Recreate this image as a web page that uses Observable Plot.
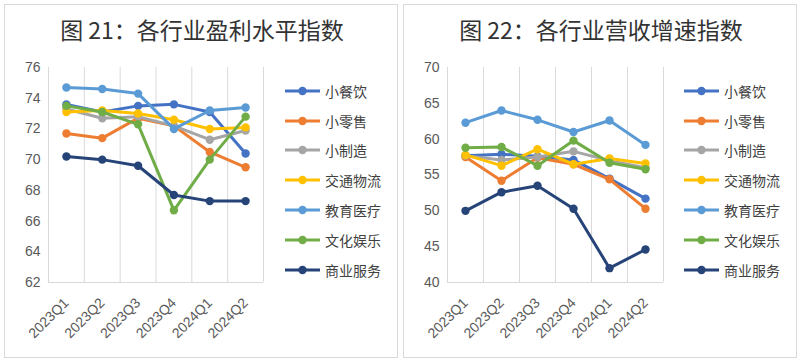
<!DOCTYPE html>
<html>
<head>
<meta charset="utf-8">
<script src="https://cdn.jsdelivr.net/npm/d3@7"></script>
<script src="https://cdn.jsdelivr.net/npm/@observablehq/plot@0.6"></script>
<style>
  html, body { margin: 0; padding: 0; background: #fff; }
  #root { position: relative; width: 801px; height: 362px; overflow: hidden; font-family: "Noto Sans CJK SC", sans-serif; }
  .panel { position: absolute; top: 4px; width: 394px; height: 354px; border: 1px solid #d9d9d9; box-sizing: border-box; }
  .title { position: absolute; top: 9px; width: 394px; text-align: center; font-size: 23px; color: #333; line-height: 30px; white-space: nowrap; }
  .legend { position: absolute; top: 76px; font-size: 14px; color: #404040; }
  .legend .item { display: flex; align-items: center; height: 29.8px; }
  .legend svg { margin-right: 4px; }
</style>
</head>
<body>
<div id="root"></div>
<script>
const quarters = ["2023Q1", "2023Q2", "2023Q3", "2023Q4", "2024Q1", "2024Q2"];
const seriesNames = ["小餐饮", "小零售", "小制造", "交通物流", "教育医疗", "文化娱乐", "商业服务"];
const seriesColors = ["#4472C4", "#ED7D31", "#A5A5A5", "#FFC000", "#5B9BD5", "#70AD47", "#264478"];

// 图21 各行业盈利水平指数
const profit_小餐饮 = [73.6, 73.1, 73.5, 73.6, 73.1, 70.4];
const profit_小零售 = [71.7, 71.4, 72.7, 72.2, 70.5, 69.5];
const profit_小制造 = [73.3, 72.7, 72.8, 72.2, 71.3, 71.9];
const profit_交通物流 = [73.1, 73.2, 73.0, 72.6, 72.0, 72.1];
const profit_教育医疗 = [74.7, 74.6, 74.3, 72.0, 73.2, 73.4];
const profit_文化娱乐 = [73.5, 73.1, 72.3, 66.7, 70.0, 72.8];
const profit_商业服务 = [70.2, 70.0, 69.6, 67.7, 67.3, 67.3];
const profitTicks = [62, 64, 66, 68, 70, 72, 74, 76];

// 图22 各行业营收增速指数
const revenue_小餐饮 = [57.7, 57.9, 57.6, 57.1, 54.5, 51.7];
const revenue_小零售 = [57.5, 54.2, 57.4, 56.5, 54.4, 50.3];
const revenue_小制造 = [57.7, 57.1, 57.5, 58.3, 57.0, 56.0];
const revenue_交通物流 = [57.8, 56.3, 58.6, 56.5, 57.3, 56.6];
const revenue_教育医疗 = [62.3, 64.0, 62.7, 61.0, 62.6, 59.2];
const revenue_文化娱乐 = [58.8, 58.9, 56.3, 59.8, 56.7, 55.8];
const revenue_商业服务 = [50.0, 52.6, 53.5, 50.3, 42.0, 44.6];
const revenueTicks = [40, 45, 50, 55, 60, 65, 70];

const profitSeries = [profit_小餐饮, profit_小零售, profit_小制造, profit_交通物流, profit_教育医疗, profit_文化娱乐, profit_商业服务];
const revenueSeries = [revenue_小餐饮, revenue_小零售, revenue_小制造, revenue_交通物流, revenue_教育医疗, revenue_文化娱乐, revenue_商业服务];

function toRows(seriesArrays) {
  const rows = [];
  seriesArrays.forEach((vals, s) => vals.forEach((v, i) => rows.push({series: seriesNames[s], i, q: quarters[i], value: v})));
  return rows;
}

function makeChart(seriesArrays, ticks, marginLeft) {
  const rows = toRows(seriesArrays);
  const idx = quarters.map((_, i) => i);
  const bounds = d3.range(-0.5, quarters.length, 1);
  const marks = [
    Plot.ruleX(bounds, {stroke: "#d9d9d9", strokeWidth: 1}),
    Plot.ruleY([ticks[0]], {stroke: "#d9d9d9", strokeWidth: 1}),
    Plot.axisY({ticks, tickSize: 0, tickPadding: 8, fontSize: 14, fill: "#595959", label: null}),
    Plot.axisX({ticks: idx, tickFormat: i => quarters[i], tickSize: 0, tickPadding: 18, tickRotate: -45, fontSize: 14, fill: "#595959", label: null})
  ];
  seriesNames.forEach(name => {
    const d = rows.filter(r => r.series === name);
    marks.push(Plot.line(d, {x: "i", y: "value", stroke: "series", strokeWidth: 3, strokeLinejoin: "round", strokeLinecap: "round"}));
    marks.push(Plot.dot(d, {x: "i", y: "value", fill: "series", r: 4.2}));
  });
  return Plot.plot({
    width: 270,
    height: 300,
    marginLeft,
    marginRight: 7,
    marginTop: 17,
    marginBottom: 68,
    x: {type: "linear", domain: [-0.5, quarters.length - 0.5], axis: null, label: null},
    y: {domain: [ticks[0], ticks[ticks.length - 1]], axis: null, label: null},
    color: {domain: seriesNames, range: seriesColors},
    style: {fontFamily: "'Liberation Sans', 'Noto Sans CJK SC', sans-serif", color: "#595959", background: "transparent", overflow: "visible"},
    marks
  });
}

function makeLegend() {
  const div = document.createElement("div");
  div.className = "legend";
  seriesNames.forEach((name, k) => {
    const item = document.createElement("div");
    item.className = "item";
    const c = seriesColors[k];
    item.innerHTML = `<svg width="37" height="10"><line x1="1" y1="5" x2="36" y2="5" stroke="${c}" stroke-width="3"/><circle cx="18.5" cy="5" r="4.2" fill="${c}"/></svg><span>${name}</span>`;
    div.appendChild(item);
  });
  return div;
}

const root = document.getElementById("root");
const panels = [
  {left: 4, title: "图 21：各行业盈利水平指数", series: profitSeries, ticks: profitTicks, chartLeft: 0, marginLeft: 48, legendLeft: 284},
  {left: 403, title: "图 22：各行业营收增速指数", series: revenueSeries, ticks: revenueTicks, chartLeft: 400, marginLeft: 47, legendLeft: 683}
];
panels.forEach(p => {
  const panel = document.createElement("div");
  panel.className = "panel";
  panel.style.left = p.left + "px";
  const t = document.createElement("div");
  t.className = "title";
  t.textContent = p.title;
  panel.appendChild(t);
  root.appendChild(panel);
  const chart = makeChart(p.series, p.ticks, p.marginLeft);
  chart.style.position = "absolute";
  chart.style.left = p.chartLeft + "px";
  chart.style.top = "50px";
  root.appendChild(chart);
  const lg = makeLegend();
  lg.style.left = p.legendLeft + "px";
  root.appendChild(lg);
});
</script>
</body>
</html>
